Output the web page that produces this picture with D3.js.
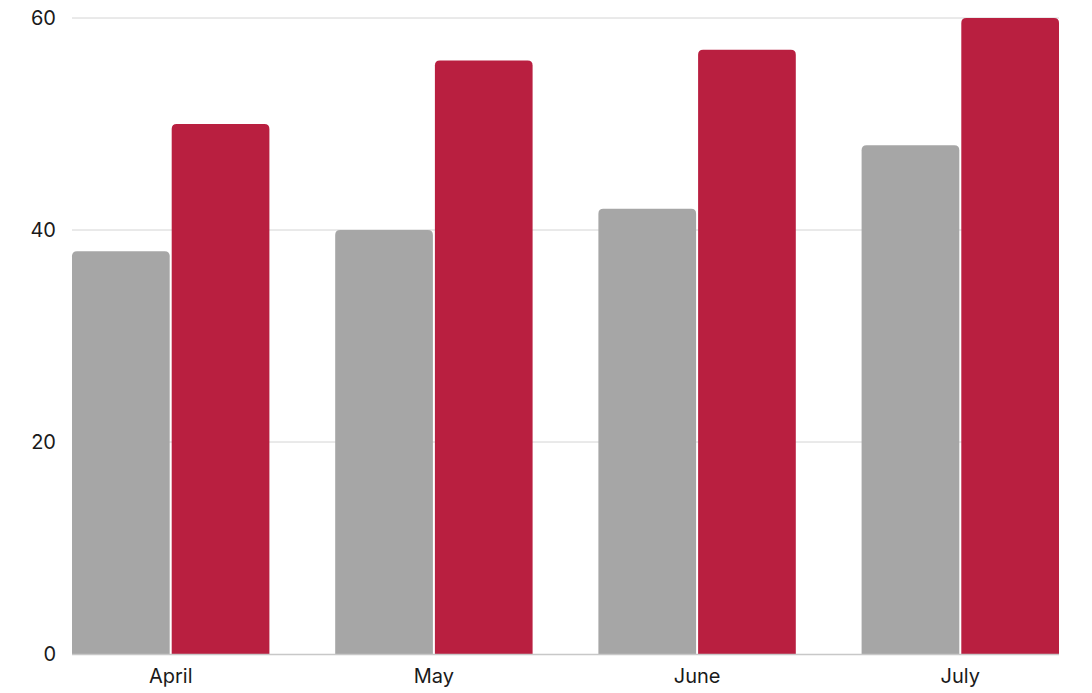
<!DOCTYPE html>
<html><head><meta charset="utf-8">
<script src="https://cdn.jsdelivr.net/npm/d3@7"></script>
<style>body{margin:0;background:#fff}svg{display:block}text{font-family:Inter,"Open Sans",sans-serif}</style>
</head><body>
<svg id="c" width="1092" height="693"></svg>
<script>
const categories = ["April","May","June","July"];
const seriesA = [38,40,42,48];
const seriesB = [50,56,57,60];
const yTicks = [0,20,40,60];

(function(){
const svg = d3.select("#c");
const mLeft = 72, mRight = 1059, mTop = 18, mBottom = 654;
const x = d3.scaleBand().domain(categories).range([mLeft,mRight]).paddingInner(0.25).paddingOuter(0);
const sub = d3.scaleBand().domain([0,1]).range([0,x.bandwidth()]);
const y = d3.scaleLinear().domain([0,60]).range([mBottom,mTop]);

svg.append("g").selectAll("line").data(yTicks.filter(d=>d>0)).join("line")
  .attr("x1",mLeft).attr("x2",mRight).attr("y1",d=>y(d)).attr("y2",d=>y(d))
  .attr("stroke","#d4d4d4").attr("stroke-width",1);

svg.append("g").selectAll("text").data(yTicks).join("text")
  .attr("x",56).attr("y",d=>y(d)).attr("dy","0.35em").attr("text-anchor","end")
  .attr("font-size",20).attr("fill","#1a1a1a").text(d=>d);

function topRounded(x0,y0,w,h,r){
  r=Math.min(r,h,w/2);
  return `M${x0},${y0+h}V${y0+r}Q${x0},${y0} ${x0+r},${y0}H${x0+w-r}Q${x0+w},${y0} ${x0+w},${y0+r}V${y0+h}Z`;
}
const colors = ["#a6a6a6","#b91f40"];
const series=[seriesA,seriesB];
series.forEach((s,i)=>{
  svg.append("g").selectAll("path").data(s).join("path")
    .attr("d",(d,j)=>{
      const x0=x(categories[j])+sub(i)+(i===1?1:0);
      const w=sub.bandwidth()-1;
      return topRounded(x0,y(d),w,y(0)-y(d),5);
    })
    .attr("fill",colors[i]);
});

svg.append("line").attr("x1",mLeft).attr("x2",mRight).attr("y1",mBottom+0.5).attr("y2",mBottom+0.5)
  .attr("stroke","#c8c8c8").attr("stroke-width",1.5);

svg.append("g").selectAll("text").data(categories).join("text")
  .attr("x",d=>x(d)+x.bandwidth()/2).attr("y",683).attr("text-anchor","middle")
  .attr("font-size",20).attr("fill","#1a1a1a").text(d=>d);
})();
</script>
</body></html>
